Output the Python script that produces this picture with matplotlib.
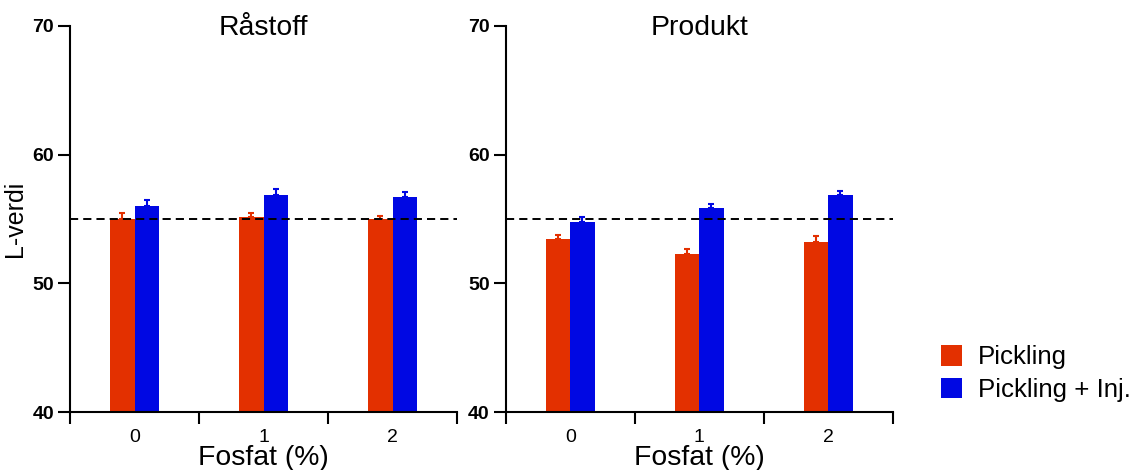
import numpy as np
import matplotlib
matplotlib.use("Agg")
import matplotlib.pyplot as plt
from matplotlib.patches import Patch

plt.rcParams['font.family'] = ['Liberation Sans', 'DejaVu Sans']

# data
fosfat = ['0', '1', '2']
series = ['Pickling', 'Pickling + Inj.']
colors = ['#E33000', '#0008E3']

rastoff_pickling = [55.0, 55.15, 55.0]
rastoff_pickling_err = [0.5, 0.35, 0.2]
rastoff_inj = [56.0, 56.85, 56.7]
rastoff_inj_err = [0.5, 0.45, 0.4]

produkt_pickling = [53.45, 52.3, 53.2]
produkt_pickling_err = [0.3, 0.35, 0.5]
produkt_inj = [54.8, 55.85, 56.85]
produkt_inj_err = [0.35, 0.35, 0.35]

reference_line = 55

panels = [
    ('Råstoff', rastoff_pickling, rastoff_pickling_err, rastoff_inj, rastoff_inj_err),
    ('Produkt', produkt_pickling, produkt_pickling_err, produkt_inj, produkt_inj_err),
]

fig = plt.figure(figsize=(11.41, 4.70), dpi=100)
ax_left = [0.0614, 0.4432]
w = 0.19
x = np.arange(len(fosfat))

for i, (title, p, pe, q, qe) in enumerate(panels):
    ax = fig.add_axes([ax_left[i], 0.1234, 0.3392, 0.8213])
    for vals, errs, col, off in [(p, pe, colors[0], -w / 2), (q, qe, colors[1], w / 2)]:
        ax.bar(x + off, vals, w, bottom=0, color=col, zorder=2)
        ax.errorbar(x + off, vals, yerr=[np.zeros(len(errs)), errs], fmt='none',
                    ecolor=col, elinewidth=1.5, capsize=2, capthick=1.5, zorder=3)
    ax.axhline(reference_line, color='black', lw=1.4, dashes=(4.2, 2.6), zorder=4)

    ax.set_ylim(40, 70)
    ax.set_xlim(-0.5, 2.5)
    ax.set_yticks([40, 50, 60, 70])
    ax.set_yticklabels(['40', '50', '60', '70'], fontsize=14, fontweight='bold')
    ax.set_xticks(x)
    ax.set_xticklabels(fosfat, fontsize=14)
    ax.set_xticks([-0.5, 0.5, 1.5, 2.5], minor=True)
    ax.tick_params(axis='x', which='major', length=0, pad=12)
    ax.tick_params(axis='x', which='minor', length=8.6, width=1.5, direction='out')
    ax.tick_params(axis='y', length=8.6, width=1.5, pad=3)
    for s in ['top', 'right']:
        ax.spines[s].set_visible(False)
    for s in ['left', 'bottom']:
        ax.spines[s].set_linewidth(1.5)

    ax.set_title(title, fontsize=20.4, y=0.977, pad=0)
    ax.set_xlabel('Fosfat (%)', fontsize=20.4)
    ax.xaxis.set_label_coords(0.5, -0.137)
    ax.xaxis.label.set_va('baseline')
    if i == 0:
        ax.set_ylabel('L-verdi', fontsize=18, labelpad=4)

handles = [Patch(facecolor=c, edgecolor='none') for c in colors]
fig.legend(handles, series, loc='upper left', bbox_to_anchor=(0.8155, 0.287),
           frameon=False, fontsize=18.6, handlelength=0.82, handleheight=0.82,
           handletextpad=0.6, labelspacing=0.32, borderaxespad=0)

fig.savefig('out.png', dpi=100)
